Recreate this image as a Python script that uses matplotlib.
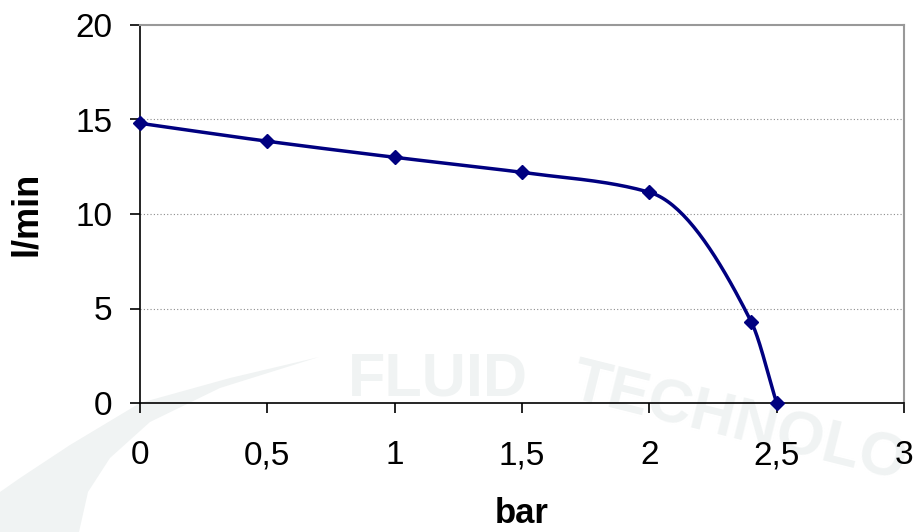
import numpy as np
import matplotlib
matplotlib.use('Agg')
import matplotlib.pyplot as plt
from matplotlib.patches import Polygon

# measured points (bar, l/min)
pressure = [0, 0.5, 1.0, 1.5, 2.0, 2.4, 2.5]
flow = [14.8, 13.85, 13.0, 12.2, 11.15, 4.3, 0.0]

x_ticks = [0, 0.5, 1, 1.5, 2, 2.5, 3]
x_labels = ['0', '0,5', '1', '1,5', '2', '2,5', '3']
y_ticks = [0, 5, 10, 15, 20]

WATERMARK = '#f0f3f3'


def smooth_curve(xs, ys, steps=40):
    # monotone cubic (Fritsch-Carlson) through the measured points
    x = np.asarray(xs, float)
    y = np.asarray(ys, float)
    h = np.diff(x)
    delta = np.diff(y) / h
    n = len(x)
    d = np.zeros(n)
    for k in range(1, n - 1):
        if delta[k - 1] * delta[k] > 0:
            w1 = 2 * h[k] + h[k - 1]
            w2 = h[k] + 2 * h[k - 1]
            d[k] = (w1 + w2) / (w1 / delta[k - 1] + w2 / delta[k])
    d[0] = delta[0]
    d[-1] = delta[-1]
    out_x, out_y = [], []
    for k in range(n - 1):
        t = np.linspace(0, 1, steps)
        h00 = 2 * t ** 3 - 3 * t ** 2 + 1
        h10 = t ** 3 - 2 * t ** 2 + t
        h01 = -2 * t ** 3 + 3 * t ** 2
        h11 = t ** 3 - t ** 2
        out_x.extend(x[k] + t * h[k])
        out_y.extend(h00 * y[k] + h10 * h[k] * d[k] + h01 * y[k + 1] + h11 * h[k] * d[k + 1])
    return out_x, out_y


plt.rcParams['font.family'] = ['Liberation Sans', 'DejaVu Sans']

W, H = 918, 532
fig = plt.figure(figsize=(W / 100, H / 100), dpi=100)

# faint watermark behind the axes: swoosh + lettering
swoosh = [(319, 357), (230, 378), (140, 403), (70, 445), (20, 478), (0, 492), (0, 532),
          (79, 532), (88, 492), (110, 458), (150, 422), (220, 388)]
fig.patches.append(Polygon([(x / W, 1 - y / H) for x, y in swoosh], closed=True,
                           transform=fig.transFigure, facecolor=WATERMARK, edgecolor='none', zorder=-2))
fig.text(348 / W, 1 - 395 / H, 'FLUID', fontsize=44, fontweight='bold', color=WATERMARK,
         va='baseline', ha='left', zorder=-2)
fig.text(568 / W, 1 - 398 / H, 'TECHNOLO', fontsize=44, fontweight='bold', color=WATERMARK,
         rotation=-14, rotation_mode='anchor', va='baseline', ha='left', zorder=-2)

ax = fig.add_axes([140 / W, 1 - 403 / H, 764 / W, 378 / H])
ax.patch.set_alpha(0)

cx, cy = smooth_curve(pressure, flow)
ax.plot(cx, cy, color='#000080', linewidth=2.5, zorder=3)
ax.plot(pressure, flow, linestyle='none', marker='D', markersize=7,
        color='#000080', zorder=4, clip_on=False)

ax.set_xlim(0, 3)
ax.set_ylim(0, 20)
ax.set_xticks(x_ticks)
ax.set_xticklabels(x_labels)
ax.set_yticks(y_ticks)

for y in [5, 10, 15]:
    ax.axhline(y, color='#8c8c8c', linestyle=(0, (1, 2)), linewidth=0.8, zorder=1)

ax.spines['left'].set_color('black')
ax.spines['bottom'].set_color('black')
ax.spines['left'].set_linewidth(1.2)
ax.spines['bottom'].set_linewidth(1.2)
ax.spines['top'].set_color('#999999')
ax.spines['right'].set_color('#999999')
ax.spines['top'].set_linewidth(1.5)
ax.spines['right'].set_linewidth(1.5)

ax.tick_params(axis='both', direction='out', length=7, width=1.2, labelsize=24, colors='black')
ax.tick_params(axis='x', pad=20)
ax.tick_params(axis='y', pad=13)

ax.set_xlabel('bar', fontsize=25, fontweight='bold')
ax.xaxis.set_label_coords(0.5, -94 / 378)
ax.set_ylabel('l/min', fontsize=26, fontweight='bold')
ax.yaxis.set_label_coords(-96 / 764, 0.5)

fig.savefig('out.png', dpi=100)
